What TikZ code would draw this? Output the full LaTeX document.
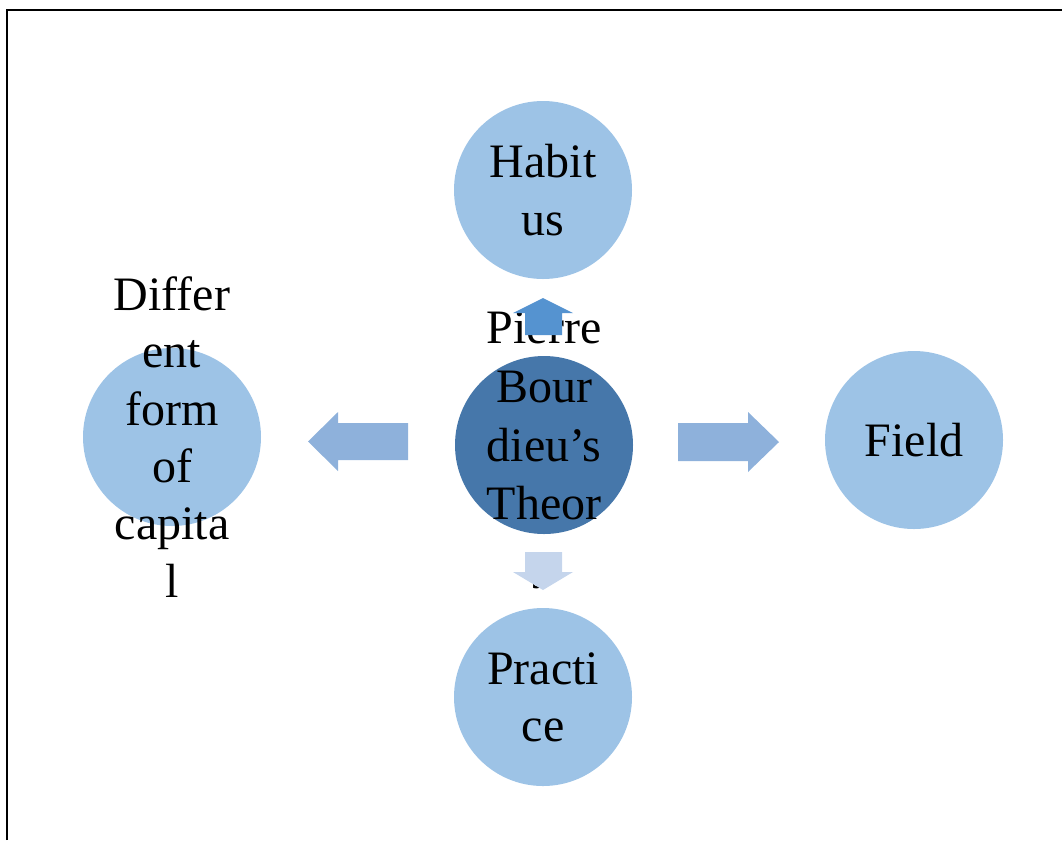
\documentclass[tikz,border=0pt]{standalone}
\usepackage{fontspec}
\setmainfont{Liberation Serif}
\definecolor{lightblue}{HTML}{9DC3E6}
\definecolor{darkblue}{HTML}{4677AA}
\definecolor{sidearrow}{HTML}{8EB1DB}
\definecolor{uparrow}{HTML}{5593D0}
\definecolor{downarrow}{HTML}{C5D5EC}
\tikzset{
	circ/.style={circle, fill=lightblue, inner sep=0pt, minimum size=133.5pt},
	txt/.style={align=center, inner sep=0pt, font=\fontsize{36}{43}\selectfont}
}

\begin{document}
\begin{tikzpicture}[x=0.75pt, y=-0.75pt]
		\useasboundingbox (0,0) rectangle (1062,840);
		\draw [line width=1.2pt](7,840)--(7,10)--(1062,10);

		\node (habitus)[circ]at (543,190)  {};
		\node (theory)[circ, fill=darkblue]at (544,445)  {};
		\node (practice)[circ]at (543,697)  {};
		\node (field)[circ]at (914,440)  {};
		\node (capital)[circ]at (172,437)  {};

		\node [txt]at (habitus)  {Habit\\us};
		\node [txt, font=\fontsize{36}{44}\selectfont, yshift=-4pt]at (theory)  {Pierre\\Bour\\dieu’s\\Theor\\y};
		\node [txt]at (practice)  {Practi\\ce};
		\node [txt]at (field)  {Field};
		\node [txt]at (capital)  {Differ\\ent\\form\\of\\capita\\l};

		% block arrows
		\fill [sidearrow](408,423)--(338,423)--(338,412)--(308,441.5)--(338,471)--(338,460)--(408,460)--cycle;
		\fill [sidearrow](678,423)--(748,423)--(748,412)--(779,442)--(748,472)--(748,461)--(678,461)--cycle;
		\fill [uparrow](525,335)--(525,313)--(513,313)--(543,298)--(573,313)--(562,313)--(562,335)--cycle;
		\fill [downarrow](525,552)--(562,552)--(562,572)--(573,572)--(543,590)--(513,572)--(525,572)--cycle;
	\end{tikzpicture}
\end{document}
